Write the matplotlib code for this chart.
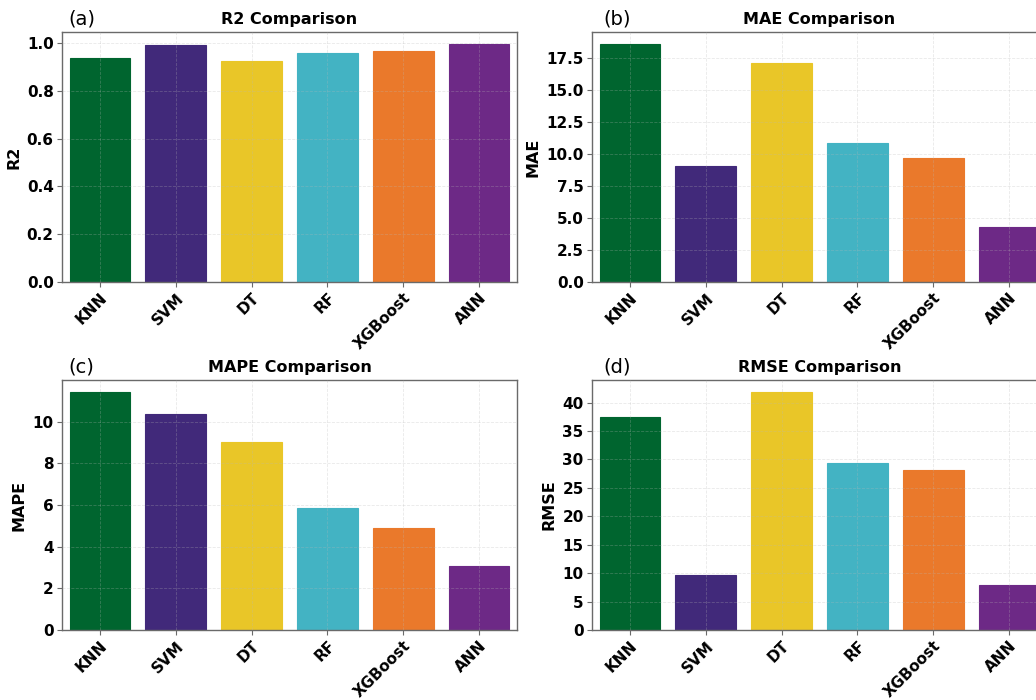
import matplotlib
matplotlib.use("Agg")
import matplotlib.pyplot as plt

models = ["KNN", "SVM", "DT", "RF", "XGBoost", "ANN"]
r2_values = [0.936, 0.994, 0.925, 0.961, 0.969, 0.997]
mae_values = [18.59, 9.05, 17.11, 10.84, 9.67, 4.29]
mape_values = [11.44, 10.40, 9.01, 5.86, 4.88, 3.06]
rmse_values = [37.54, 9.68, 41.88, 29.33, 28.10, 7.92]

bar_colors = ["#00652f", "#41297a", "#e9c628", "#43b3c3", "#ea792b", "#6d2986"]

panels = [
    ("(a)", "R2 Comparison", "R2", r2_values, [0.0, 0.2, 0.4, 0.6, 0.8, 1.0], "{:.1f}"),
    ("(b)", "MAE Comparison", "MAE", mae_values, [0, 2.5, 5, 7.5, 10, 12.5, 15, 17.5], "{:.1f}"),
    ("(c)", "MAPE Comparison", "MAPE", mape_values, [0, 2, 4, 6, 8, 10], "{:d}"),
    ("(d)", "RMSE Comparison", "RMSE", rmse_values, [0, 5, 10, 15, 20, 25, 30, 35, 40], "{:d}"),
]

fig = plt.figure(figsize=(10.36, 7.0), dpi=100)

W, H = 1036.0, 700.0
ax_w, ax_h = 455.0, 250.0
lefts = [62.0, 592.0]
tops = [32.0, 380.0]

for idx, (tag, title, ylabel, values, yticks, fmt) in enumerate(panels):
    row, col = divmod(idx, 2)
    left = lefts[col] / W
    bottom = (H - tops[row] - ax_h) / H
    ax = fig.add_axes([left, bottom, ax_w / W, ax_h / H])

    x = range(len(models))
    ax.bar(x, values, width=0.8, color=bar_colors, edgecolor=bar_colors,
           linewidth=0.8, zorder=2)
    ax.set_xlim(-0.5, len(models) - 0.5)
    ax.set_ylim(0, max(values) * 1.05)

    ax.set_xticks(list(x))
    ax.set_xticklabels(models, rotation=45, ha="right", rotation_mode="anchor",
                       fontsize=11, fontweight="bold")
    ax.set_yticks(yticks)
    ax.set_yticklabels([fmt.format(int(t)) if fmt == "{:d}" else fmt.format(t) for t in yticks],
                       fontsize=11, fontweight="bold")

    ax.set_title(title, fontsize=11.5, fontweight="bold", pad=6)
    ax.set_ylabel(ylabel, fontsize=11.5, fontweight="bold", labelpad=4)

    ax.grid(True, linestyle="--", linewidth=0.6, color="#b8b8b8", alpha=0.3, zorder=3)
    ax.set_axisbelow(False)

    for spine in ax.spines.values():
        spine.set_color("#6a6a6a")
        spine.set_linewidth(1.0)
    ax.tick_params(axis="both", colors="#6a6a6a", labelcolor="black", length=3.5,
                   width=0.8, pad=2.5)

    tag_x = 0.013 if col == 0 else 0.026
    ax.text(tag_x, 1.015, tag, transform=ax.transAxes, fontsize=14,
            ha="left", va="bottom")

fig.savefig("out.png", dpi=100)
